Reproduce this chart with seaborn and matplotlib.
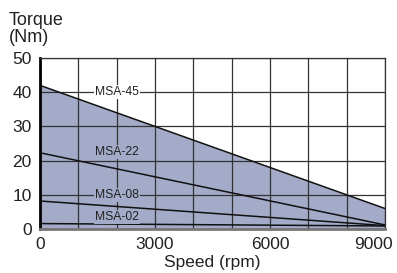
import pandas as pd
import matplotlib.pyplot as plt
import matplotlib.transforms as mtransforms
import seaborn as sns

# velocidade (rpm) nos extremos da curva
speed = [0, 9000]
msa45 = [42.0, 6.0]
msa22 = [22.3, 1.2]
msa08 = [8.2, 1.0]
msa02 = [1.6, 0.9]

motores = ["MSA-45", "MSA-22", "MSA-08", "MSA-02"]
valores = [msa45, msa22, msa08, msa02]
# posição dos rótulos (rpm, Nm)
rotulo_x = [2000, 2000, 2000, 2000]
rotulo_y = [40, 22.6, 10, 3.5]

x_ticks = [0, 3000, 6000, 9000]
y_ticks = [0, 10, 20, 30, 40, 50]

linhas = []
for nome, v in zip(motores, valores):
    for s, t in zip(speed, v):
        linhas.append({"Speed": s, "Torque": t, "Motor": nome})
df = pd.DataFrame(linhas)

sns.set_style("white")
plt.rcParams['font.family'] = ['Liberation Sans', 'DejaVu Sans']

fig = plt.figure(figsize=(3.97, 2.73), dpi=100)
ax = fig.add_axes([0.1008, 0.161, 0.869, 0.6265])

cor_fundo = "#a3abc8"
ax.fill_between(speed, 0, msa45, color=cor_fundo, zorder=1, linewidth=0)

for x in range(0, 9001, 1000):
    ax.axvline(x, color="#333333", linewidth=0.9, zorder=2)
for y in y_ticks:
    ax.axhline(y, color="#333333", linewidth=0.9, zorder=2)

sns.lineplot(data=df, x="Speed", y="Torque", units="Motor", estimator=None,
             color="#111111", linewidth=1.1, ax=ax, zorder=3, legend=False)

for nome, xr, yr in zip(motores, rotulo_x, rotulo_y):
    fundo = "white" if nome == "MSA-45" else cor_fundo
    ax.text(xr, yr, nome, fontsize=8.7, ha="center", va="center", color="#222222",
            bbox=dict(facecolor=fundo, edgecolor="none", pad=0.8), zorder=4)

ax.set_xlim(0, 9000)
ax.set_ylim(0, 50)
ax.set_xticks(x_ticks)
ax.set_yticks(y_ticks)
ax.tick_params(axis="both", labelsize=12.5, length=4, width=0.9, color="#333333",
               direction="out", pad=2, colors="#222222")
ax.set_xlabel("Speed (rpm)", fontsize=12.5, labelpad=2, color="#222222")
ax.set_ylabel("")

# último rótulo do eixo x puxado para a esquerda para caber na figura
ultimo = ax.get_xticklabels()[-1]
ultimo.set_transform(ultimo.get_transform() +
                     mtransforms.ScaledTranslation(-12 / 100, 0, fig.dpi_scale_trans))

for lado in ["top", "right"]:
    ax.spines[lado].set_color("#333333")
    ax.spines[lado].set_linewidth(0.9)
ax.spines["left"].set_color("black")
ax.spines["left"].set_linewidth(2)
ax.spines["bottom"].set_color("#777777")
ax.spines["bottom"].set_linewidth(2)

fig.text(0.022, 0.893, "Torque\n(Nm)", fontsize=13, ha="left", va="center",
         color="#222222", linespacing=1.0)

fig.savefig("out.png", dpi=100)
